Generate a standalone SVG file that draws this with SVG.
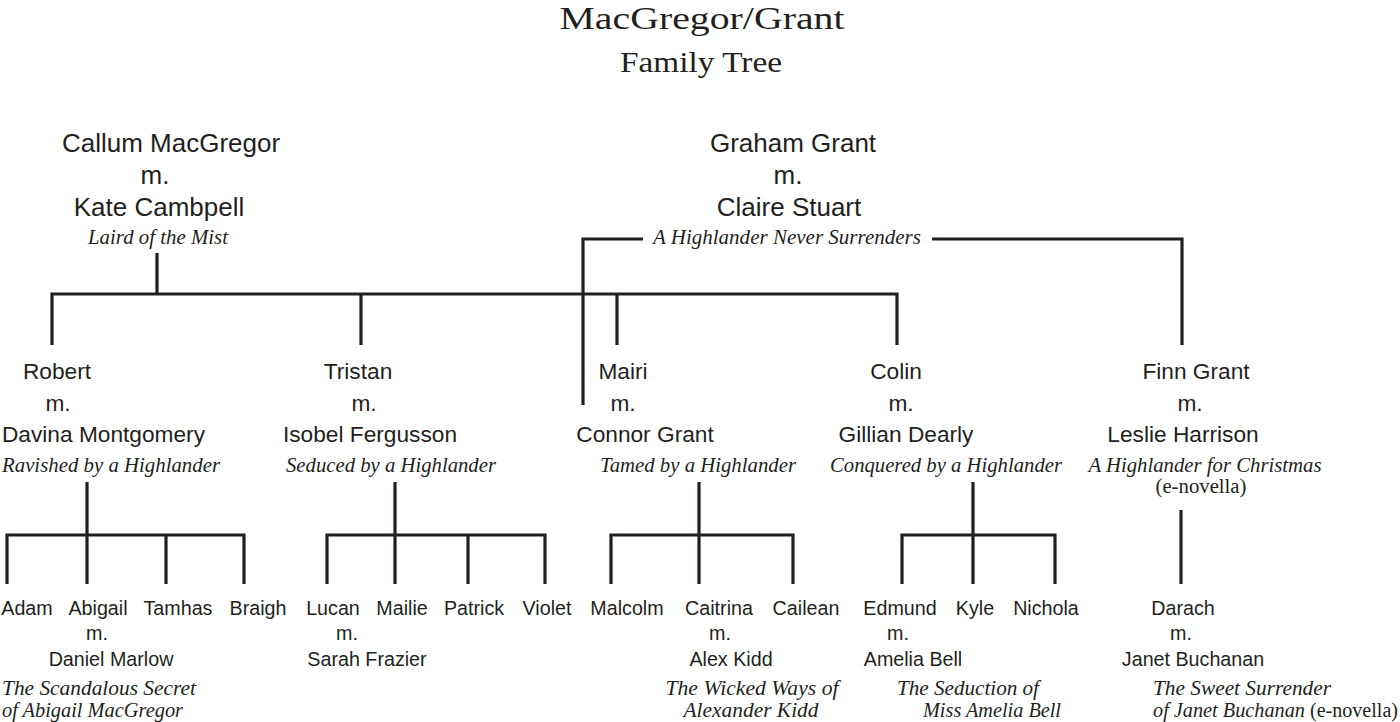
<svg xmlns="http://www.w3.org/2000/svg" width="1400" height="722" viewBox="0 0 1400 722">
<style>
.t{font-family:"Liberation Serif",serif;fill:#231f20;text-anchor:middle}
.n1{font-family:"Liberation Sans",Arial,sans-serif;font-size:26px;fill:#231f20;text-anchor:middle}
.n2{font-family:"Liberation Sans",Arial,sans-serif;font-size:22.7px;fill:#231f20;text-anchor:middle}
.n3{font-family:"Liberation Sans",Arial,sans-serif;font-size:19.7px;fill:#231f20;text-anchor:middle}
.b{font-family:"Liberation Serif",serif;font-style:italic;font-size:21px;fill:#231f20;text-anchor:middle}
.bl{font-family:"Liberation Serif",serif;font-style:italic;font-size:21px;fill:#231f20;text-anchor:start}
.r{font-family:"Liberation Serif",serif;font-size:20px;fill:#231f20}
.c{fill:none;stroke:#231f20;stroke-width:3.2;stroke-linecap:butt;stroke-linejoin:miter}
</style>
<rect width="1400" height="722" fill="#ffffff"/>
<g id="title">
<text class="t" x="702" y="29" font-size="32.5" textLength="285" lengthAdjust="spacingAndGlyphs">MacGregor/Grant</text>
<text class="t" x="701" y="72" font-size="30" textLength="162" lengthAdjust="spacingAndGlyphs">Family Tree</text>
</g>
<g id="connectors">
<path class="c" d="M157 253V294M52 345V294H897V345M361 294V345M617 294V345"/>
<path class="c" d="M643 239H583V405M932 239H1182V345"/>
<path class="c" d="M87 482V535M7 584V535H244V584M87 535V584M166 535V584"/>
<path class="c" d="M395 482V535M327 584V535H545V584M395 535V584M468 535V584"/>
<path class="c" d="M699 482V535M611 584V535H793V584M699 535V584"/>
<path class="c" d="M973 482V535M902 584V535H1055V584M973 535V584"/>
<path class="c" d="M1181 510V584"/>
</g>
<g id="callum">
<text class="n1" x="171" y="152">Callum MacGregor</text>
<text class="n1" x="155" y="184">m.</text>
<text class="n1" x="159" y="216">Kate Cambpell</text>
<text class="b" x="158" y="244" textLength="140" lengthAdjust="spacingAndGlyphs">Laird of the Mist</text>
</g>
<g id="graham">
<text class="n1" x="793" y="152">Graham Grant</text>
<text class="n1" x="788" y="184">m.</text>
<text class="n1" x="789" y="216">Claire Stuart</text>
<text class="b" x="787" y="244" textLength="268" lengthAdjust="spacingAndGlyphs">A Highlander Never Surrenders</text>
</g>
<g id="robert">
<text class="n2" x="57" y="379">Robert</text>
<text class="n2" x="58" y="411">m.</text>
<text class="n2" x="103.5" y="442">Davina Montgomery</text>
<text class="b" x="111" y="472" textLength="218" lengthAdjust="spacingAndGlyphs">Ravished by a Highlander</text>
</g>
<g id="tristan">
<text class="n2" x="358" y="379">Tristan</text>
<text class="n2" x="364" y="411">m.</text>
<text class="n2" x="370" y="442">Isobel Fergusson</text>
<text class="b" x="391" y="472" textLength="210" lengthAdjust="spacingAndGlyphs">Seduced by a Highlander</text>
</g>
<g id="mairi">
<text class="n2" x="623" y="379">Mairi</text>
<text class="n2" x="623" y="411">m.</text>
<text class="n2" x="645" y="442">Connor Grant</text>
<text class="b" x="698" y="472" textLength="196" lengthAdjust="spacingAndGlyphs">Tamed by a Highlander</text>
</g>
<g id="colin">
<text class="n2" x="896" y="379">Colin</text>
<text class="n2" x="901" y="411">m.</text>
<text class="n2" x="906" y="442">Gillian Dearly</text>
<text class="b" x="946" y="472" textLength="232" lengthAdjust="spacingAndGlyphs">Conquered by a Highlander</text>
</g>
<g id="finn">
<text class="n2" x="1196" y="379">Finn Grant</text>
<text class="n2" x="1190" y="411">m.</text>
<text class="n2" x="1183" y="442">Leslie Harrison</text>
<text class="b" x="1205" y="472" textLength="233" lengthAdjust="spacingAndGlyphs">A Highlander for Christmas</text>
<text class="r" x="1201" y="493" font-size="18" text-anchor="middle" textLength="91" lengthAdjust="spacingAndGlyphs">(e-novella)</text>
</g>
<g id="adam"><text class="n3" x="27" y="615">Adam</text></g>
<g id="abigail">
<text class="n3" x="98" y="615">Abigail</text>
<text class="n3" x="97" y="640">m.</text>
<text class="n3" x="111" y="666">Daniel Marlow</text>
<text class="bl" x="2" y="695" textLength="194" lengthAdjust="spacingAndGlyphs">The Scandalous Secret</text>
<text class="bl" x="2" y="717" textLength="181" lengthAdjust="spacingAndGlyphs">of Abigail MacGregor</text>
</g>
<g id="tamhas"><text class="n3" x="178" y="615">Tamhas</text></g>
<g id="braigh"><text class="n3" x="258" y="615">Braigh</text></g>
<g id="lucan">
<text class="n3" x="333" y="615">Lucan</text>
<text class="n3" x="347" y="640">m.</text>
<text class="n3" x="367" y="666">Sarah Frazier</text>
</g>
<g id="mailie"><text class="n3" x="402" y="615">Mailie</text></g>
<g id="patrick"><text class="n3" x="474" y="615">Patrick</text></g>
<g id="violet"><text class="n3" x="547" y="615">Violet</text></g>
<g id="malcolm"><text class="n3" x="627" y="615">Malcolm</text></g>
<g id="caitrina">
<text class="n3" x="719" y="615">Caitrina</text>
<text class="n3" x="720" y="640">m.</text>
<text class="n3" x="731" y="666">Alex Kidd</text>
<text class="b" x="752" y="695" textLength="173" lengthAdjust="spacingAndGlyphs">The Wicked Ways of</text>
<text class="b" x="751" y="717" textLength="135" lengthAdjust="spacingAndGlyphs">Alexander Kidd</text>
</g>
<g id="cailean"><text class="n3" x="806" y="615">Cailean</text></g>
<g id="edmund">
<text class="n3" x="900" y="615">Edmund</text>
<text class="n3" x="898" y="640">m.</text>
<text class="n3" x="913" y="666">Amelia Bell</text>
<text class="b" x="968" y="695" textLength="142" lengthAdjust="spacingAndGlyphs">The Seduction of</text>
<text class="b" x="992" y="717" textLength="138" lengthAdjust="spacingAndGlyphs">Miss Amelia Bell</text>
</g>
<g id="kyle"><text class="n3" x="975" y="615">Kyle</text></g>
<g id="nichola"><text class="n3" x="1046" y="615">Nichola</text></g>
<g id="darach">
<text class="n3" x="1183" y="615">Darach</text>
<text class="n3" x="1181" y="640">m.</text>
<text class="n3" x="1193" y="666">Janet Buchanan</text>
<text class="bl" x="1153" y="695" textLength="178" lengthAdjust="spacingAndGlyphs">The Sweet Surrender</text>
<text class="bl" x="1153" y="717" textLength="152" lengthAdjust="spacingAndGlyphs">of Janet Buchanan</text>
<text class="r" x="1310" y="717" textLength="88" lengthAdjust="spacingAndGlyphs">(e-novella)</text>
</g>
</svg>
